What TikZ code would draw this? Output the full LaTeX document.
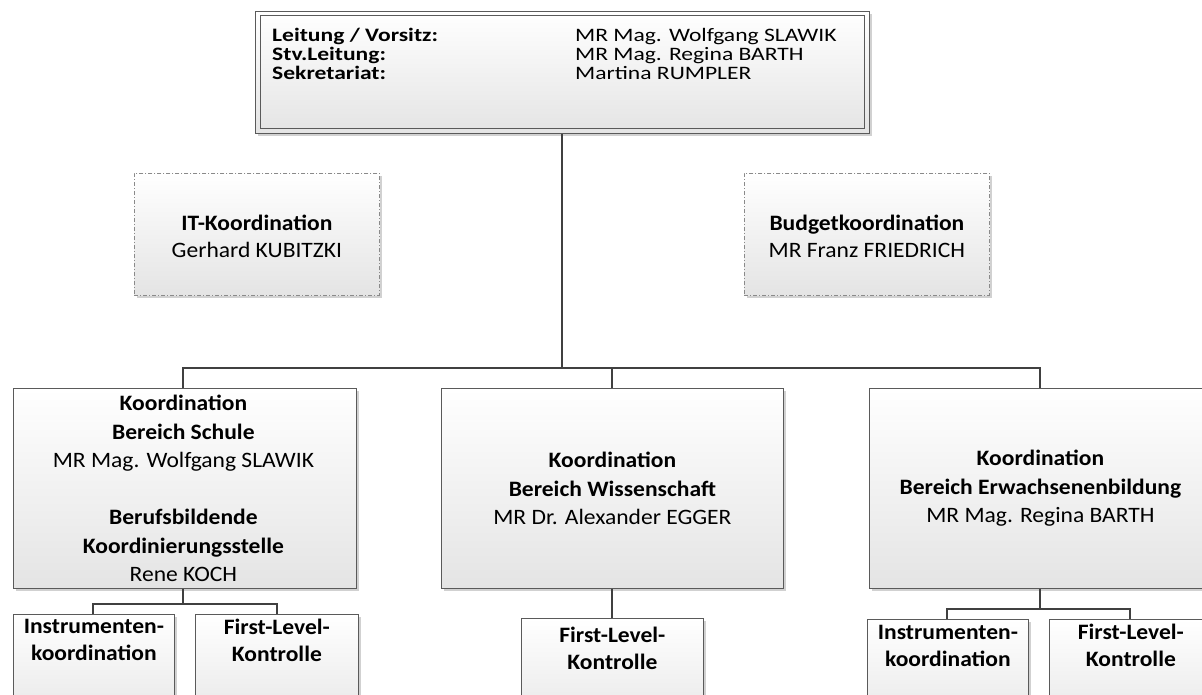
\documentclass[tikz,border=0pt]{standalone}
\usepackage{fontspec}
\setmainfont{Carlito}
\newfontfamily\headfont[FakeStretch=1.24]{Carlito}
\newfontfamily\bodyfont[FakeStretch=1.07]{Carlito}
\usetikzlibrary{shadows}

\definecolor{boxline}{HTML}{5A5A5A}
\definecolor{wire}{HTML}{404040}
\definecolor{boxbottom}{HTML}{E4E4E4}
\definecolor{dashline}{HTML}{8A8A8A}

\begin{document}
\begin{tikzpicture}[x=1pt,y=-1pt,
  unitbox/.style={rectangle, draw=boxline, line width=0.8pt, inner sep=0pt,
    top color=white, bottom color=boxbottom, anchor=north west,
    drop shadow={shadow xshift=2.5pt, shadow yshift=-2.5pt, fill=black, opacity=0.18}},
  staffbox/.style={unitbox, draw=dashline, dash pattern=on 4pt off 2pt on 1pt off 2pt},
  bigtext/.style={font=\bodyfont\fontsize{22}{28.5}\selectfont, align=center, inner sep=0pt},
  subtext/.style={font=\bodyfont\fontsize{22}{27}\selectfont\bfseries, align=center, inner sep=0pt, anchor=north},
  stafftext/.style={font=\bodyfont\fontsize{22}{27}\selectfont, align=center, inner sep=0pt},
  headtext/.style={font=\headfont\fontsize{19}{19}\selectfont, anchor=base west, inner sep=0pt},
  wirestyle/.style={draw=wire, line width=2pt},
]
\useasboundingbox (0,0) rectangle (1202,695);
\begin{scope}
\clip (0,0) rectangle (1202,695);

% leadership box with double frame
\node[unitbox, minimum width=614pt, minimum height=122pt] (lead) at (255,11) {};
\node[rectangle, draw=boxline, line width=0.8pt, anchor=north west, inner sep=0pt,
      minimum width=604pt, minimum height=113pt] (leadinner) at (260,15.5) {};
\node[headtext] (l1a) at (272,42) {\bfseries Leitung / Vorsitz:};
\node[headtext] (l2a) at (272,61) {\bfseries Stv.Leitung:};
\node[headtext] (l3a) at (272,80) {\bfseries Sekretariat:};
\node[headtext] (l1b) at (575,42) {MR Mag. Wolfgang SLAWIK};
\node[headtext] (l2b) at (575,61) {MR Mag. Regina BARTH};
\node[headtext] (l3b) at (575,80) {Martina RUMPLER};

% staff units
\node[staffbox, minimum width=245pt, minimum height=122pt] (it) at (134,173) {};
\node[stafftext] (ittext) at ([yshift=-2pt]it.center) {\bfseries IT-Koordination\\Gerhard KUBITZKI};
\node[staffbox, minimum width=245pt, minimum height=122pt] (budget) at (744,173) {};
\node[stafftext] (budgettext) at ([yshift=-2pt]budget.center) {\bfseries Budgetkoordination\\MR Franz FRIEDRICH};

% divisions
\node[unitbox, minimum width=343pt, minimum height=200pt] (schule) at (13,388) {};
\node[bigtext] (schuletext) at ([xshift=-1.5pt]schule.center)
  {\bfseries Koordination\\\bfseries Bereich Schule\\MR Mag. Wolfgang SLAWIK\\[28.5pt]
   \bfseries Berufsbildende\\\bfseries Koordinierungsstelle\\Rene KOCH};
\node[unitbox, minimum width=342pt, minimum height=200pt] (wiss) at (441,388) {};
\node[bigtext] (wisstext) at (wiss.center)
  {\bfseries Koordination\\\bfseries Bereich Wissenschaft\\MR Dr. Alexander EGGER};
\node[unitbox, minimum width=342pt, minimum height=200pt] (ewb) at (869,388) {};
\node[bigtext] (ewbtext) at (ewb.center)
  {\bfseries Koordination\\\bfseries Bereich Erwachsenenbildung\\MR Mag. Regina BARTH};

% sub-units
\node[unitbox, minimum width=161pt, minimum height=120pt] (sinst) at (13,614) {};
\node[subtext] (sinsttext) at ([yshift=-5.5pt]sinst.north) {Instrumenten-\\koordination};
\node[unitbox, minimum width=163pt, minimum height=120pt] (sflc) at (195,614) {};
\node[subtext] (sflctext) at ([yshift=-4.5pt]sflc.north) {First-Level-\\Kontrolle};
\node[unitbox, minimum width=182pt, minimum height=120pt] (wflc) at (521,618) {};
\node[subtext] (wflctext) at ([yshift=-9pt]wflc.north) {First-Level-\\Kontrolle};
\node[unitbox, minimum width=161pt, minimum height=120pt] (einst) at (867,619) {};
\node[subtext] (einsttext) at ([yshift=-6pt]einst.north) {Instrumenten-\\koordination};
\node[unitbox, minimum width=163pt, minimum height=120pt] (eflc) at (1049,619) {};
\node[subtext] (eflctext) at ([yshift=-5pt]eflc.north) {First-Level-\\Kontrolle};

% connectors
\coordinate (hub) at (562,368);
\draw[wirestyle] (lead.south -| hub) -- (hub);
\draw[wirestyle] (schule.north -| 183,0) |- (hub);
\draw[wirestyle] (hub) -| (ewb.north -| 1040,0);
\draw[wirestyle] (612,368) -- (wiss.north -| 612,0);

\coordinate (shub) at (183,604);
\draw[wirestyle] (schule.south -| shub) -- (shub);
\draw[wirestyle] (sinst.north -| 93,0) |- (shub) -| (sflc.north -| 277,0);
\draw[wirestyle] (wiss.south -| 612,0) -- (wflc.north -| 612,0);
\coordinate (ehub) at (1040,609);
\draw[wirestyle] (ewb.south -| ehub) -- (ehub);
\draw[wirestyle] (einst.north -| 947,0) |- (ehub) -| (eflc.north -| 1130,0);
\end{scope}
\end{tikzpicture}
\end{document}
